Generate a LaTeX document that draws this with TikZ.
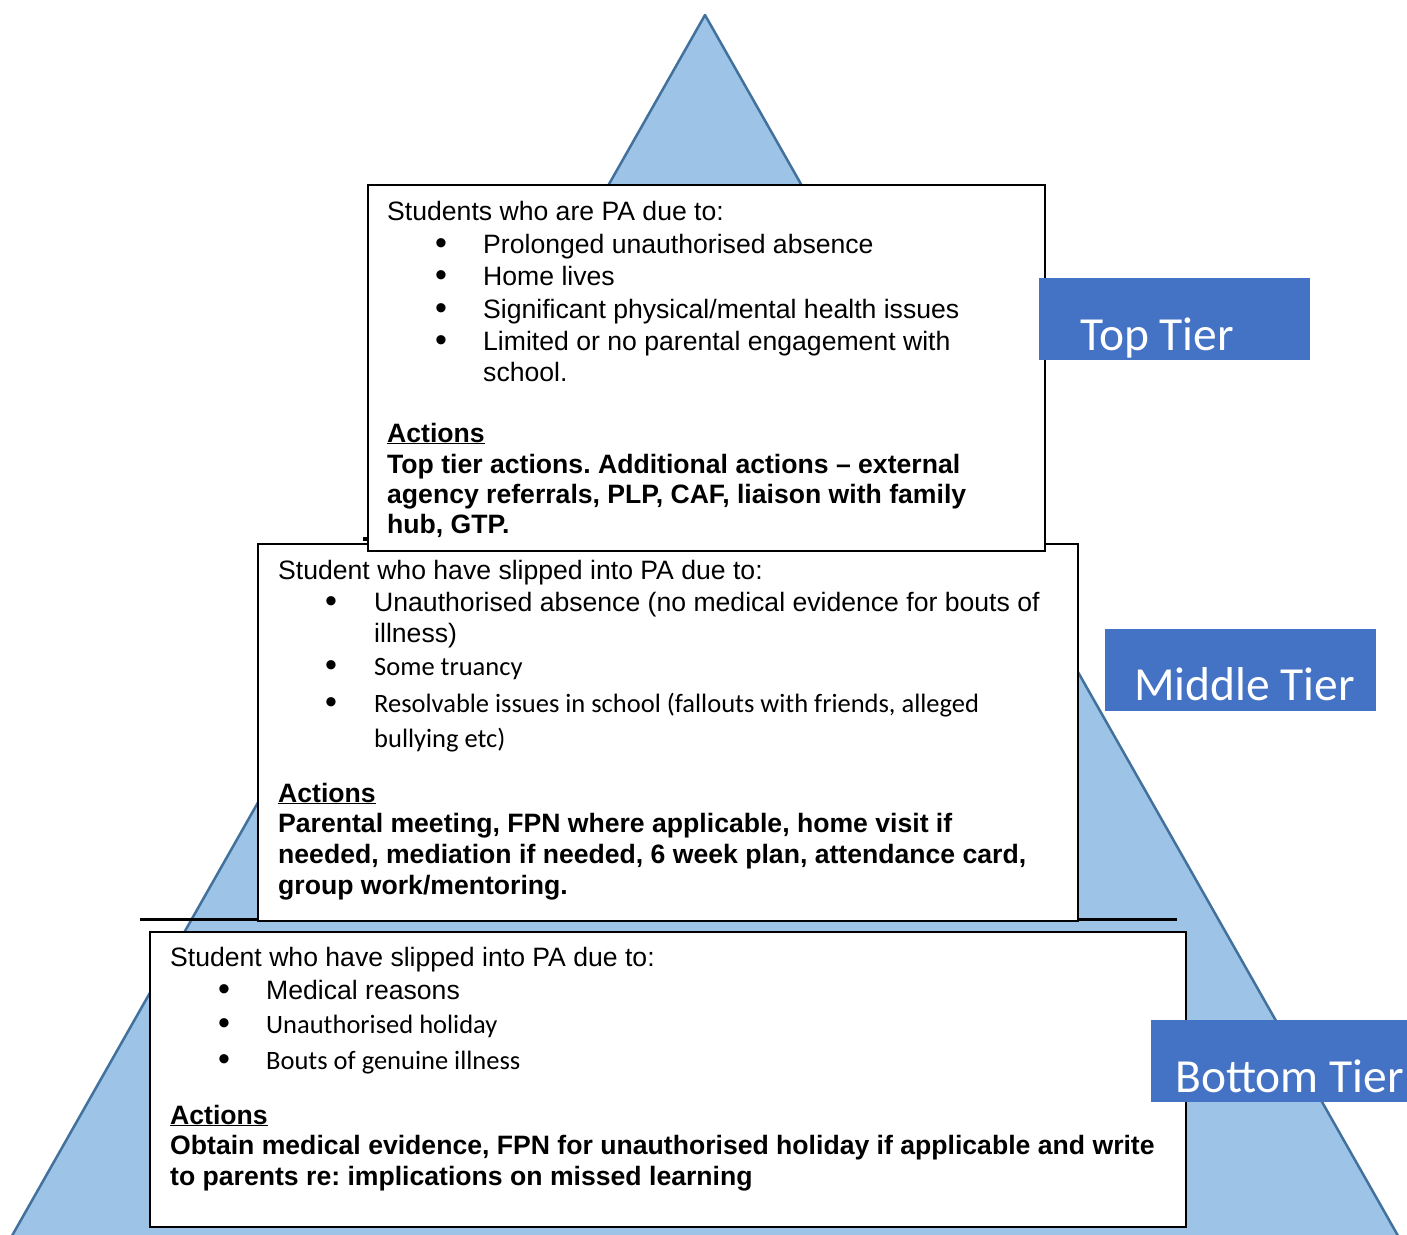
\documentclass[tikz,border=0pt]{standalone}
\usepackage{fontspec}
\setmainfont{Liberation Sans}
\newfontfamily\calibri{Carlito}
\definecolor{trifill}{HTML}{9DC3E6}
\definecolor{triedge}{HTML}{41719C}
\definecolor{tierblue}{HTML}{4472C4}
\frenchspacing
\tikzset{
 txt/.style={anchor=base west, inner sep=0pt, font=\fontsize{26.6}{30}\selectfont},
 btxt/.style={anchor=base west, inner sep=0pt, font=\fontsize{26.6}{30}\selectfont\bfseries},
 ctxt/.style={anchor=base west, inner sep=0pt, font=\fontsize{26.5}{30}\selectfont\calibri},
 bul/.style={anchor=base, inner sep=0pt, font=\fontsize{34}{36}\selectfont},
 tierbox/.style={draw=black, line width=2pt, fill=white, inner sep=0pt, anchor=north west},
 tierlabel/.style={fill=tierblue, inner sep=0pt, anchor=north west},
 tiertxt/.style={anchor=base west, inner sep=0pt, text=white, font=\fontsize{47.5}{50}\selectfont\calibri},
}
\begin{document}
\begin{tikzpicture}[x=1pt,y=-1pt]
\useasboundingbox (0,0) rectangle (1407,1234);
\clip (0,0) rectangle (1407,1234);
% pyramid
\fill[trifill] (705,15) -- (9.6,1240) -- (1400.4,1240) -- cycle;
\draw[triedge, line width=2.5pt, line join=round] (9.6,1240) -- (705,15) -- (1400.4,1240);
% divider line
\draw[black, line width=3pt] (140,919) -- (1177,919);
% tier boxes
\node[tierbox, minimum width=820, minimum height=377] (midbox) at (257,543) {};
\node[tierbox, minimum width=1036, minimum height=295] (botbox) at (149,931) {};
\node[tierbox, minimum width=677, minimum height=366] (topbox) at (367,184) {};
\fill (363,537) rectangle (368,541);
% tier labels
\node[tierlabel, minimum width=271, minimum height=82] (toplab) at (1039,278) {};
\node[tiertxt] (toplabtxt) at (1080,350) {Top Tier};
\node[tierlabel, minimum width=271, minimum height=82] (midlab) at (1105,629) {};
\node[tiertxt] (midlabtxt) at (1134,700) {Middle Tier};
\node[tierlabel, minimum width=271, minimum height=82] (botlab) at (1151,1020) {};
\node[tiertxt] (botlabtxt) at (1175,1092) {Bottom Tier};
% top box text
\node[txt] (t0) at (387,220) {Students who are PA due to:};
\node[bul] (tb1) at (441,254) {\textbullet};
\node[txt] (t1) at (483,253) {Prolonged unauthorised absence};
\node[bul] (tb2) at (441,286) {\textbullet};
\node[txt] (t2) at (483,285) {Home lives};
\node[bul] (tb3) at (441,319) {\textbullet};
\node[txt] (t3) at (483,318) {Significant physical/mental health issues};
\node[bul] (tb4) at (441,351) {\textbullet};
\node[txt] (t4) at (483,350) {Limited or no parental engagement with};
\node[txt] (t5) at (483,381) {school.};
\node[btxt] (ta) at (387,442) {\underline{Actions}};
\node[btxt] (ta1) at (387,473) {Top tier actions. Additional actions – external};
\node[btxt] (ta2) at (387,503) {agency referrals, PLP, CAF, liaison with family};
\node[btxt] (ta3) at (387,533) {hub, GTP.};
% middle box text
\node[txt] (m0) at (278,579) {Student who have slipped into PA due to:};
\node[bul] (mb1) at (331,612) {\textbullet};
\node[txt] (m1) at (374,611) {Unauthorised absence (no medical evidence for bouts of};
\node[txt] (m2) at (374,642) {illness)};
\node[bul] (mb2) at (331,676) {\textbullet};
\node[ctxt] (m3) at (374,675) {Some truancy};
\node[bul] (mb3) at (331,713) {\textbullet};
\node[ctxt] (m4) at (374,712) {Resolvable issues in school (fallouts with friends, alleged};
\node[ctxt] (m5) at (374,747) {bullying etc)};
\node[btxt] (ma) at (278,802) {\underline{Actions}};
\node[btxt] (ma1) at (278,832) {Parental meeting, FPN where applicable, home visit if};
\node[btxt] (ma2) at (278,863) {needed, mediation if needed, 6 week plan, attendance card,};
\node[btxt] (ma3) at (278,894) {group work/mentoring.};
% bottom box text
\node[txt] (b0) at (170,966) {Student who have slipped into PA due to:};
\node[bul] (bb1) at (224,1000) {\textbullet};
\node[txt] (b1) at (266,999) {Medical reasons};
\node[bul] (bb2) at (224,1034) {\textbullet};
\node[ctxt] (b2) at (266,1033) {Unauthorised holiday};
\node[bul] (bb3) at (224,1070) {\textbullet};
\node[ctxt] (b3) at (266,1069) {Bouts of genuine illness};
\node[btxt] (ba) at (170,1124) {\underline{Actions}};
\node[btxt] (ba1) at (170,1154) {Obtain medical evidence, FPN for unauthorised holiday if applicable and write};
\node[btxt] (ba2) at (170,1185) {to parents re: implications on missed learning};
\end{tikzpicture}
\end{document}
